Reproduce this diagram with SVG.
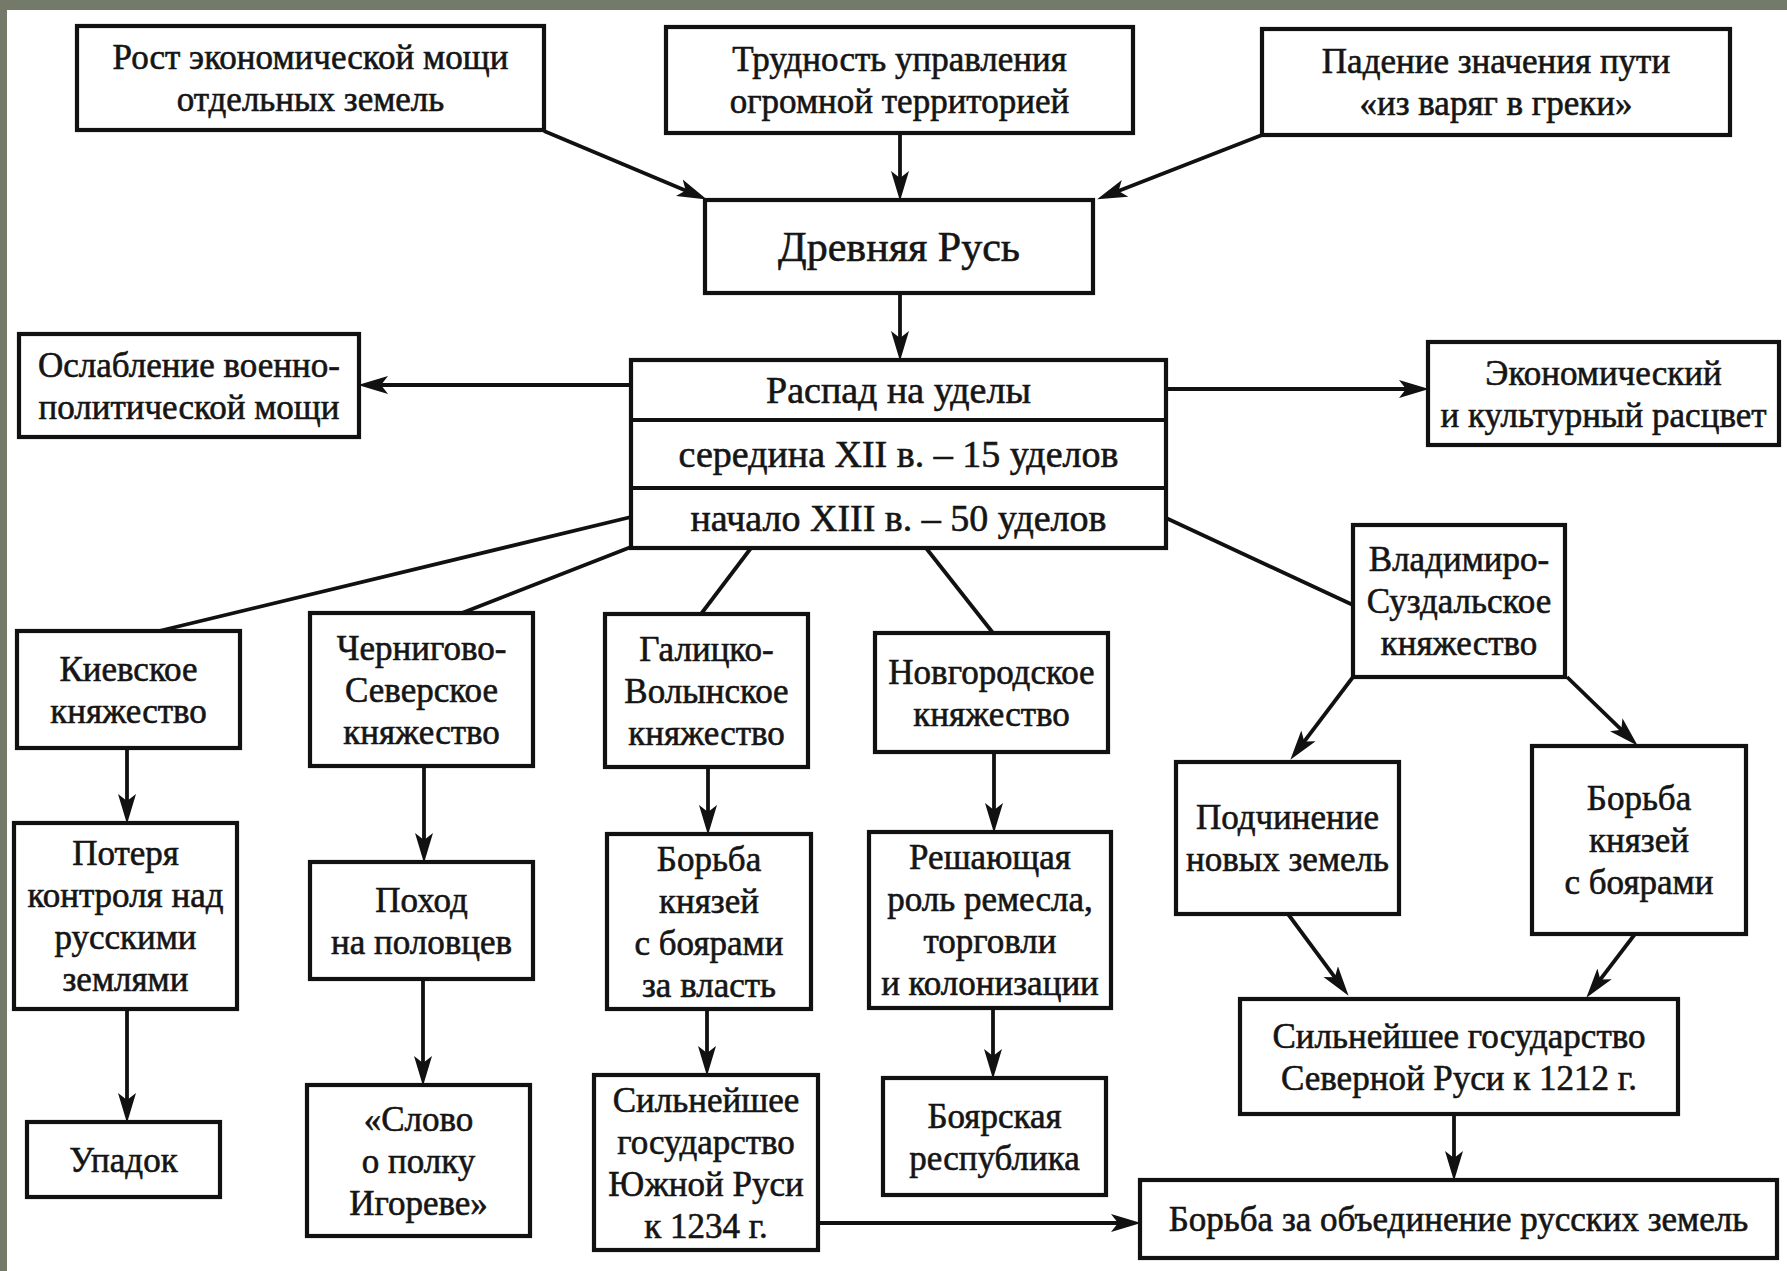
<svg xmlns="http://www.w3.org/2000/svg" width="1787" height="1271" viewBox="0 0 1787 1271">
<defs>
<style>
.box{fill:#fff;stroke:#111;stroke-width:4.2}
.div{stroke:#111;stroke-width:4.2}
.t{font-family:"Liberation Serif","Times New Roman",serif;font-size:35px;fill:#151515;stroke:#151515;stroke-width:0.6;text-anchor:middle}
.big{font-size:42px}
.mid{font-size:38px}
.c{fill:none;stroke:#111;stroke-width:3.8}
.a{marker-end:url(#ah)}
</style>
<marker id="ah" markerUnits="userSpaceOnUse" viewBox="0 0 32 20" markerWidth="32" markerHeight="20" refX="21" refY="10" orient="auto">
<path d="M0,1 L30,10 L0,19 L7,10 Z" fill="#111"/>
</marker>
</defs>
<rect x="0" y="0" width="1787" height="1271" fill="#fff"/>
<rect x="0" y="0" width="1787" height="10" fill="#737a6a"/>
<rect x="0" y="0" width="7" height="1271" fill="#737a6a"/>

<g id="connectors">
<line class="c a" x1="544" y1="131" x2="698.6" y2="195.9"/>
<line class="c a" x1="900" y1="133" x2="900" y2="192"/>
<line class="c a" x1="1262" y1="135" x2="1105.5" y2="196.1"/>
<line class="c a" x1="900" y1="294" x2="900" y2="352"/>
<line class="c a" x1="631" y1="385" x2="367" y2="385"/>
<line class="c a" x1="1166" y1="389" x2="1420" y2="389"/>
<line class="c" x1="631" y1="517" x2="155" y2="632"/>
<line class="c" x1="631" y1="547" x2="462" y2="613"/>
<line class="c" x1="751" y1="548" x2="701" y2="614"/>
<line class="c" x1="926" y1="548" x2="993" y2="633"/>
<line class="c" x1="1166" y1="518" x2="1353" y2="605"/>
<line class="c a" x1="127" y1="748" x2="127" y2="815"/>
<line class="c a" x1="127" y1="1009" x2="127" y2="1114"/>
<line class="c a" x1="424" y1="766" x2="424" y2="854"/>
<line class="c a" x1="423" y1="979" x2="423" y2="1077"/>
<line class="c a" x1="708" y1="767" x2="708" y2="826"/>
<line class="c a" x1="707" y1="1009" x2="707" y2="1067"/>
<line class="c a" x1="818" y1="1223" x2="1132" y2="1223"/>
<line class="c a" x1="994" y1="752" x2="994" y2="824"/>
<line class="c a" x1="993" y1="1008" x2="993" y2="1070"/>
<line class="c a" x1="1353" y1="677" x2="1295.8" y2="752.6"/>
<line class="c a" x1="1567" y1="677" x2="1631.3" y2="739.4"/>
<line class="c a" x1="1288" y1="914" x2="1343.2" y2="988.6"/>
<line class="c a" x1="1635" y1="934" x2="1591.8" y2="990.6"/>
<line class="c a" x1="1454" y1="1114" x2="1454" y2="1172"/>
</g>

<g id="rost"><rect class="box" x="77" y="26" width="467" height="104"/>
<text class="t" x="310.5" y="69">Рост экономической мощи</text><text class="t" x="310.5" y="111">отдельных земель</text></g>
<g id="trud"><rect class="box" x="666" y="27" width="467" height="106"/>
<text class="t" x="899.5" y="71">Трудность управления</text><text class="t" x="899.5" y="113">огромной территорией</text></g>
<g id="pad"><rect class="box" x="1262" y="29" width="468" height="106"/>
<text class="t" x="1496" y="73">Падение значения пути</text><text class="t" x="1496" y="115">«из варяг в греки»</text></g>
<g id="drev"><rect class="box" x="705" y="200" width="388" height="93"/>
<text class="t big" x="899" y="261">Древняя Русь</text></g>
<g id="oslab"><rect class="box" x="19" y="334" width="340" height="103"/>
<text class="t" x="189" y="376.5">Ослабление военно-</text><text class="t" x="189" y="418.5">политической мощи</text></g>
<g id="raspad"><rect class="box" x="631" y="360" width="535" height="188"/>
<line class="div" x1="631" y1="420" x2="1166" y2="420"/><line class="div" x1="631" y1="488" x2="1166" y2="488"/>
<text class="t mid" x="898.5" y="403">Распад на уделы</text>
<text class="t mid" x="898.5" y="467">середина XII в. – 15 уделов</text>
<text class="t mid" x="898.5" y="531">начало XIII в. – 50 уделов</text></g>
<g id="econ"><rect class="box" x="1428" y="342" width="351" height="103"/>
<text class="t" x="1603.5" y="384.5">Экономический</text><text class="t" x="1603.5" y="426.5">и культурный расцвет</text></g>
<g id="kiev"><rect class="box" x="17" y="631" width="223" height="117"/>
<text class="t" x="128.5" y="680.5">Киевское</text><text class="t" x="128.5" y="722.5">княжество</text></g>
<g id="chern"><rect class="box" x="310" y="613" width="223" height="153"/>
<text class="t" x="421.5" y="659.5">Чернигово-</text><text class="t" x="421.5" y="701.5">Северское</text><text class="t" x="421.5" y="743.5">княжество</text></g>
<g id="galic"><rect class="box" x="605" y="614" width="203" height="153"/>
<text class="t" x="706.5" y="660.5">Галицко-</text><text class="t" x="706.5" y="702.5">Волынское</text><text class="t" x="706.5" y="744.5">княжество</text></g>
<g id="novg"><rect class="box" x="875" y="633" width="233" height="119"/>
<text class="t" x="991.5" y="683.5">Новгородское</text><text class="t" x="991.5" y="725.5">княжество</text></g>
<g id="vlad"><rect class="box" x="1353" y="525" width="212" height="152"/>
<text class="t" x="1459" y="571">Владимиро-</text><text class="t" x="1459" y="613">Суздальское</text><text class="t" x="1459" y="655">княжество</text></g>
<g id="poter"><rect class="box" x="14" y="823" width="223" height="186"/>
<text class="t" x="125.5" y="865">Потеря</text><text class="t" x="125.5" y="907">контроля над</text><text class="t" x="125.5" y="949">русскими</text><text class="t" x="125.5" y="991">землями</text></g>
<g id="upad"><rect class="box" x="27" y="1122" width="193" height="75"/>
<text class="t" x="123.5" y="1171.5">Упадок</text></g>
<g id="pohod"><rect class="box" x="310" y="862" width="223" height="117"/>
<text class="t" x="421.5" y="911.5">Поход</text><text class="t" x="421.5" y="953.5">на половцев</text></g>
<g id="slovo"><rect class="box" x="307" y="1085" width="223" height="151"/>
<text class="t" x="418.5" y="1130.5">«Слово</text><text class="t" x="418.5" y="1172.5">о полку</text><text class="t" x="418.5" y="1214.5">Игореве»</text></g>
<g id="borba1"><rect class="box" x="607" y="834" width="204" height="175"/>
<text class="t" x="709" y="870.5">Борьба</text><text class="t" x="709" y="912.5">князей</text><text class="t" x="709" y="954.5">с боярами</text><text class="t" x="709" y="996.5">за власть</text></g>
<g id="silS"><rect class="box" x="594" y="1075" width="224" height="175"/>
<text class="t" x="706" y="1111.5">Сильнейшее</text><text class="t" x="706" y="1153.5">государство</text><text class="t" x="706" y="1195.5">Южной Руси</text><text class="t" x="706" y="1237.5">к 1234 г.</text></g>
<g id="resh"><rect class="box" x="869" y="832" width="242" height="176"/>
<text class="t" x="990" y="869">Решающая</text><text class="t" x="990" y="911">роль ремесла,</text><text class="t" x="990" y="953">торговли</text><text class="t" x="990" y="995">и колонизации</text></g>
<g id="boyar"><rect class="box" x="883" y="1078" width="223" height="117"/>
<text class="t" x="994.5" y="1127.5">Боярская</text><text class="t" x="994.5" y="1169.5">республика</text></g>
<g id="podch"><rect class="box" x="1176" y="762" width="223" height="152"/>
<text class="t" x="1287.5" y="829">Подчинение</text><text class="t" x="1287.5" y="871">новых земель</text></g>
<g id="borba2"><rect class="box" x="1532" y="746" width="214" height="188"/>
<text class="t" x="1639" y="810">Борьба</text><text class="t" x="1639" y="852">князей</text><text class="t" x="1639" y="894">с боярами</text></g>
<g id="silN"><rect class="box" x="1240" y="999" width="438" height="115"/>
<text class="t" x="1459" y="1047.5">Сильнейшее государство</text><text class="t" x="1459" y="1089.5">Северной Руси к 1212 г.</text></g>
<g id="obed"><rect class="box" x="1140" y="1180" width="637" height="78"/>
<text class="t" x="1458.5" y="1231">Борьба за объединение русских земель</text></g>
</svg>
